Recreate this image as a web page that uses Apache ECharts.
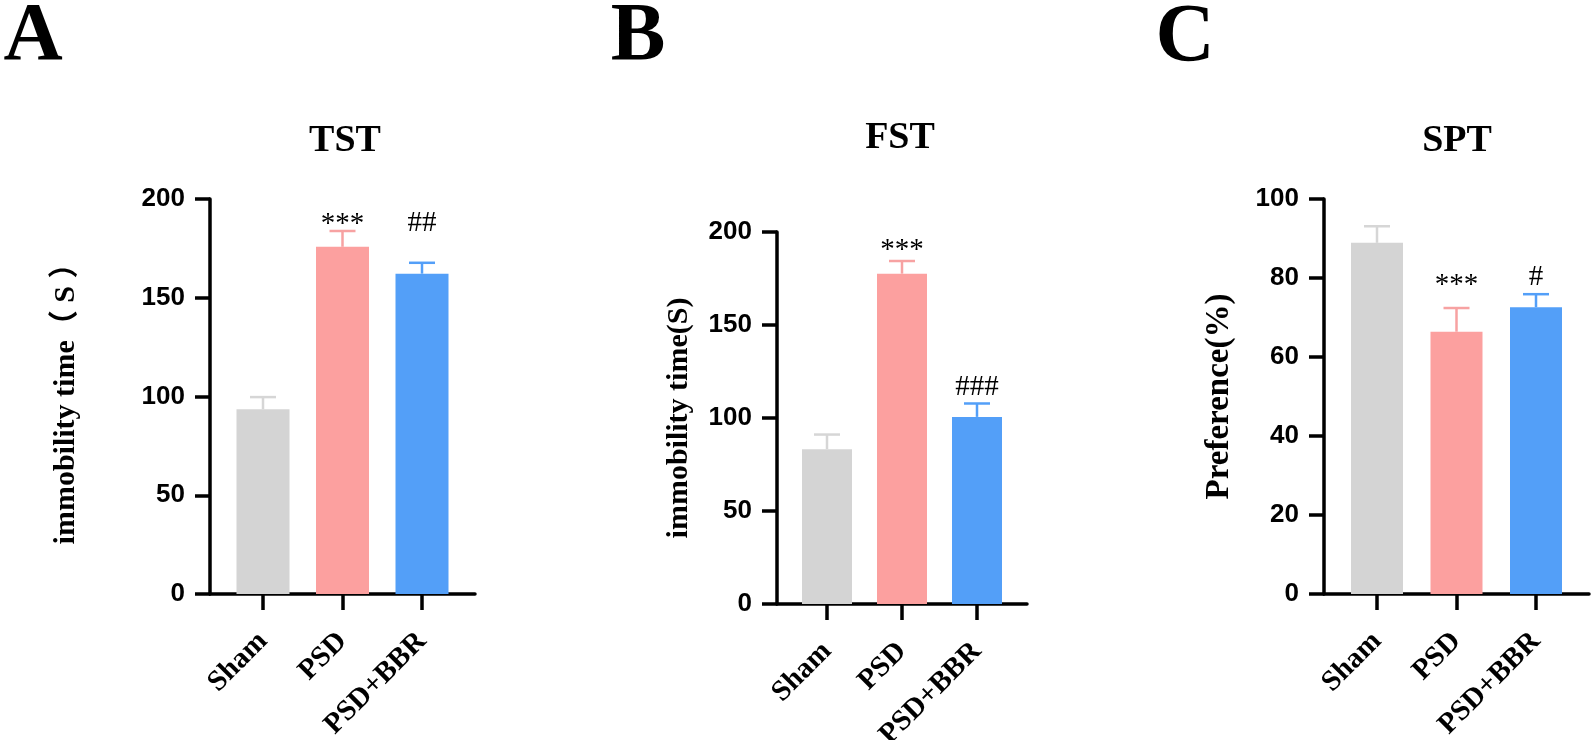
<!DOCTYPE html>
<html>
<head>
<meta charset="utf-8">
<script src="https://cdn.jsdelivr.net/npm/echarts@6/dist/echarts.min.js"></script>
<style>
  html, body { margin: 0; padding: 0; background: #fff; }
  #main { width: 1595px; height: 740px; }
</style>
</head>
<body>
<div id="main"></div>
<script>
var categories = ['Sham', 'PSD', 'PSD+BBR'];

// TST immobility time (s): mean and upper error (SEM)
var tstMean = [93.5, 175.8, 162.2];
var tstSem = [6.2, 8.0, 5.5];
var tstMarks = ['', '***', '##'];

// FST immobility time (s)
var fstMean = [83.2, 177.6, 100.6];
var fstSem = [7.9, 6.8, 7.2];
var fstMarks = ['', '***', '###'];

// SPT sucrose preference (%)
var sptMean = [88.9, 66.4, 72.6];
var sptSem = [4.2, 6.0, 3.3];
var sptMarks = ['', '***', '#'];

var barColors = ['#d4d4d4', '#fca09f', '#539ff8'];
var errColors = ['#d6d6d6', '#f7a2a2', '#539ff8'];

var serif = "'Liberation Serif', 'Times New Roman', 'Noto Sans CJK SC', serif";
var sans = "'Liberation Sans', Arial, sans-serif";

var myChart = echarts.init(document.getElementById('main'));

// layout of the three panels
var panels = [
    { mean: tstMean, sem: tstSem, marks: tstMarks, grid: { left: 210, top: 199, width: 265, height: 395 },
      yMax: 200, yStep: 50, name: 'immobility time（ S ）', nameSize: 30, nameGap: 129, barWidth: 53, markGap: [0, 7, 39] },
    { mean: fstMean, sem: fstSem, marks: fstMarks, grid: { left: 777, top: 232, width: 250, height: 372 },
      yMax: 200, yStep: 50, name: 'immobility time(S)', nameSize: 30, nameGap: 83, barWidth: 50, markGap: [0, 11, 16] },
    { mean: sptMean, sem: sptSem, marks: sptMarks, grid: { left: 1324, top: 199, width: 265, height: 395 },
      yMax: 100, yStep: 20, name: 'Preference(%)', nameSize: 33, nameGap: 88, barWidth: 52, markGap: [0, 23, 17] }
];

var grids = [], xAxes = [], yAxes = [], series = [];

panels.forEach(function (p, k) {
    grids.push({
        left: p.grid.left, top: p.grid.top, width: p.grid.width, height: p.grid.height,
        containLabel: false,
        outerBoundsMode: 'none'
    });
    xAxes.push({
        type: 'value',
        gridIndex: k,
        min: -2 / 3,
        max: 8 / 3,
        axisLine: { onZero: false, lineStyle: { color: '#000', width: 3.5 } },
        axisTick: { customValues: [0, 1, 2], length: 16, lineStyle: { color: '#000', width: 3.5 } },
        axisLabel: {
            customValues: [0, 1, 2],
            formatter: function (v) { return categories[Math.round(v)]; },
            rotate: 45,
            margin: 43,
            color: '#000',
            fontFamily: serif,
            fontWeight: 'bold',
            fontSize: 29
        },
        splitLine: { show: false }
    });
    yAxes.push({
        type: 'value',
        gridIndex: k,
        min: 0,
        max: p.yMax,
        interval: p.yStep,
        name: p.name,
        nameLocation: 'middle',
        nameGap: p.nameGap,
        nameMoveOverlap: false,
        nameTextStyle: { color: '#000', fontFamily: serif, fontWeight: 'bold', fontSize: p.nameSize },
        axisLine: { show: true, onZero: false, lineStyle: { color: '#000', width: 3.5 } },
        axisTick: { show: true, length: 15, lineStyle: { color: '#000', width: 3.5 } },
        axisLabel: { color: '#000', fontFamily: sans, fontWeight: 'bold', fontSize: 26, margin: 25 },
        splitLine: { show: false }
    });
    series.push({
        type: 'bar',
        xAxisIndex: k,
        yAxisIndex: k,
        barWidth: p.barWidth,
        z: 2,
        data: p.mean.map(function (m, i) {
            return { value: [i, m], itemStyle: { color: barColors[i] } };
        })
    });
    series.push({
        type: 'custom',
        xAxisIndex: k,
        yAxisIndex: k,
        z: 3,
        data: p.mean.map(function (m, i) { return [i, m, p.sem[i]]; }),
        renderItem: function (params, api) {
            var i = params.dataIndex;
            var base = api.coord([api.value(0), api.value(1)]);
            var top = api.coord([api.value(0), api.value(1) + api.value(2)]);
            var st = { stroke: errColors[i], lineWidth: 2.5 };
            return {
                type: 'group',
                children: [
                    { type: 'line', shape: { x1: base[0], y1: base[1], x2: top[0], y2: top[1] }, style: st },
                    { type: 'line', shape: { x1: top[0] - 13, y1: top[1], x2: top[0] + 13, y2: top[1] }, style: st },
                    { type: 'text', x: top[0], y: top[1] - p.markGap[i],
                      style: { text: p.marks[i], fill: '#000', font: '29px ' + serif, align: 'center', verticalAlign: 'middle' } }
                ]
            };
        }
    });
});

var option = {
    backgroundColor: '#fff',
    animation: false,
    grid: grids,
    xAxis: xAxes,
    yAxis: yAxes,
    series: series,
    graphic: [
        { type: 'text', x: 33, y: 38, style: { text: 'A', fill: '#000', font: 'bold 82px ' + serif, align: 'center', verticalAlign: 'middle' } },
        { type: 'text', x: 638, y: 38, style: { text: 'B', fill: '#000', font: 'bold 82px ' + serif, align: 'center', verticalAlign: 'middle' } },
        { type: 'text', x: 1185, y: 39, style: { text: 'C', fill: '#000', font: 'bold 82px ' + serif, align: 'center', verticalAlign: 'middle' } },
        { type: 'text', x: 345, y: 141, style: { text: 'TST', fill: '#000', font: 'bold 38px ' + serif, align: 'center', verticalAlign: 'middle' } },
        { type: 'text', x: 900, y: 138, style: { text: 'FST', fill: '#000', font: 'bold 38px ' + serif, align: 'center', verticalAlign: 'middle' } },
        { type: 'text', x: 1457, y: 141, style: { text: 'SPT', fill: '#000', font: 'bold 38px ' + serif, align: 'center', verticalAlign: 'middle' } }
    ]
};

myChart.setOption(option);
</script>
</body>
</html>
